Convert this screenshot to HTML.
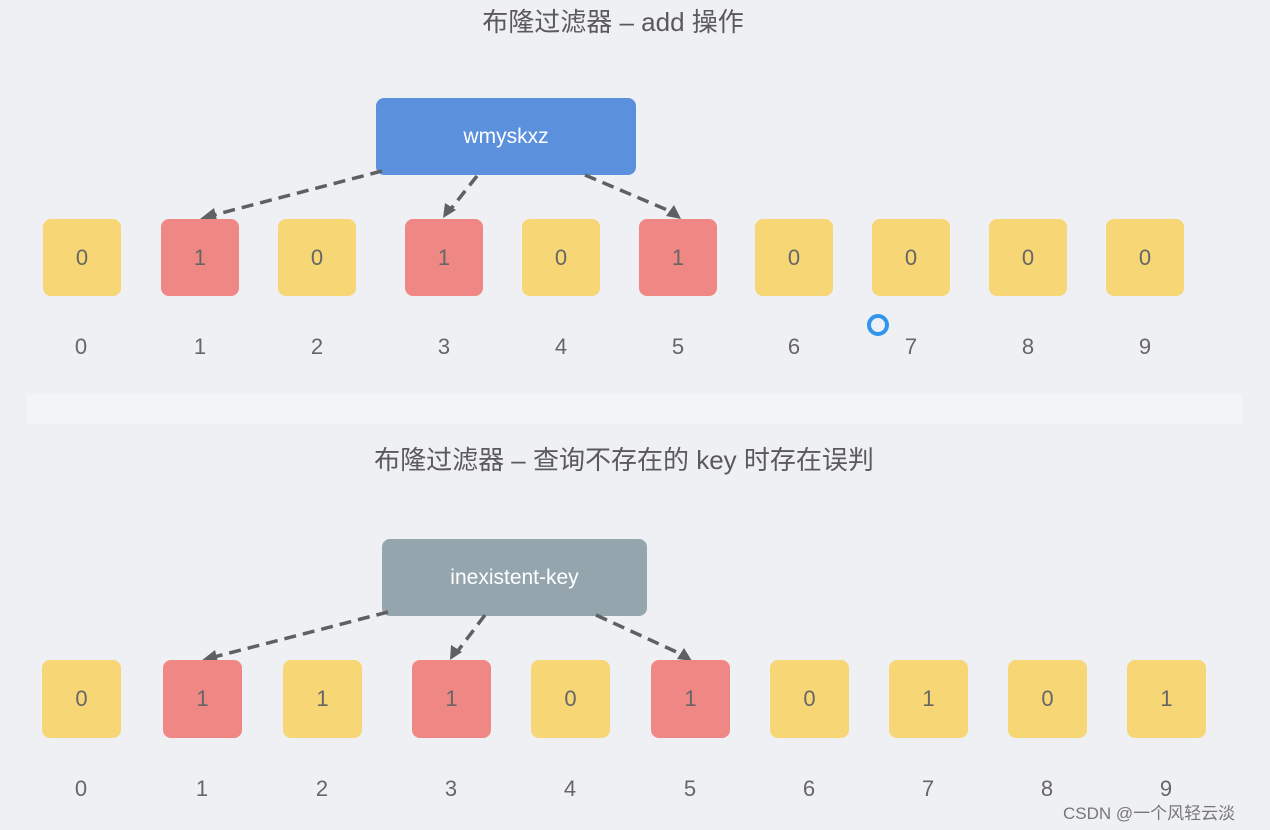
<!DOCTYPE html>
<html><head><meta charset="utf-8"><style>
html,body{margin:0;padding:0;}
body{width:1270px;height:830px;background:#eef0f4;position:relative;overflow:hidden;font-family:"Liberation Sans","Noto Sans CJK SC",sans-serif;}
.panel{position:absolute;left:27px;width:1216px;background:#eff0f4;}
.band{position:absolute;left:27px;width:1216px;top:394px;height:30px;background:#f3f4f7;}
.t{position:absolute;color:#5a5a5e;font-size:26px;white-space:nowrap;transform:translateX(-50%);}
.b{position:absolute;border-radius:8px;display:flex;align-items:center;justify-content:center;color:#666;font-size:22px;}
.y{background:#f7d676;}
.r{background:#ef8884;}
.n{position:absolute;color:#666;font-size:22px;transform:translateX(-50%);}
.node{position:absolute;border-radius:8px;color:#fff;font-size:21px;display:flex;align-items:center;justify-content:center;}
</style></head><body>
<div class="panel" style="top:0;height:394px"></div>
<div class="band"></div>
<div class="panel" style="top:424px;height:406px"></div>
<div class="t" style="left:613px;top:2px">布隆过滤器 – add 操作</div>
<div class="t" style="left:624px;top:440px">布隆过滤器 – 查询不存在的 key 时存在误判</div>
<div class="node" style="left:376px;top:98px;width:260px;height:77px;background:#5b90dc">wmyskxz</div>
<div class="node" style="left:382px;top:539px;width:265px;height:77px;background:#95a5ad">inexistent-key</div>
<svg width="1270" height="830" style="position:absolute;left:0;top:0">
<defs><marker id="a" markerWidth="8" markerHeight="8" refX="6" refY="4" orient="auto" markerUnits="userSpaceOnUse"><path d="M0,0 L8,4 L0,8 Z" fill="#5f6064" transform="scale(1.6) translate(-2,-2)"/></marker></defs>
<g stroke="#5f6064" stroke-width="3.5" stroke-dasharray="12,7" fill="none">
<line x1="382" y1="171" x2="210" y2="216"/>
<line x1="477" y1="176" x2="450" y2="210"/>
<line x1="585" y1="175" x2="672" y2="212"/>
<line x1="388" y1="612" x2="210" y2="658"/>
<line x1="485" y1="615" x2="457" y2="652"/>
<line x1="596" y1="615" x2="683" y2="655"/>
</g>
<g fill="#5f6064">
<polygon points="200,219 214,208 217,220"/>
<polygon points="443,218 445,203 456,210"/>
<polygon points="681,219 666,216 674,205"/>
<polygon points="201,661 215,650 218,662"/>
<polygon points="450,660 451,645 462,652"/>
<polygon points="692,661 677,659 684,648"/>
</g>
<circle cx="878" cy="325" r="9" fill="none" stroke="#2f95ef" stroke-width="4"/>
</svg>
<div class="b y" style="left:43px;top:219px;width:78px;height:77px">0</div>
<div class="b r" style="left:161px;top:219px;width:78px;height:77px">1</div>
<div class="b y" style="left:278px;top:219px;width:78px;height:77px">0</div>
<div class="b r" style="left:405px;top:219px;width:78px;height:77px">1</div>
<div class="b y" style="left:522px;top:219px;width:78px;height:77px">0</div>
<div class="b r" style="left:639px;top:219px;width:78px;height:77px">1</div>
<div class="b y" style="left:755px;top:219px;width:78px;height:77px">0</div>
<div class="b y" style="left:872px;top:219px;width:78px;height:77px">0</div>
<div class="b y" style="left:989px;top:219px;width:78px;height:77px">0</div>
<div class="b y" style="left:1106px;top:219px;width:78px;height:77px">0</div>
<div class="n" style="left:81px;top:334px">0</div>
<div class="n" style="left:200px;top:334px">1</div>
<div class="n" style="left:317px;top:334px">2</div>
<div class="n" style="left:444px;top:334px">3</div>
<div class="n" style="left:561px;top:334px">4</div>
<div class="n" style="left:678px;top:334px">5</div>
<div class="n" style="left:794px;top:334px">6</div>
<div class="n" style="left:911px;top:334px">7</div>
<div class="n" style="left:1028px;top:334px">8</div>
<div class="n" style="left:1145px;top:334px">9</div>
<div class="b y" style="left:42px;top:660px;width:79px;height:78px">0</div>
<div class="b r" style="left:163px;top:660px;width:79px;height:78px">1</div>
<div class="b y" style="left:283px;top:660px;width:79px;height:78px">1</div>
<div class="b r" style="left:412px;top:660px;width:79px;height:78px">1</div>
<div class="b y" style="left:531px;top:660px;width:79px;height:78px">0</div>
<div class="b r" style="left:651px;top:660px;width:79px;height:78px">1</div>
<div class="b y" style="left:770px;top:660px;width:79px;height:78px">0</div>
<div class="b y" style="left:889px;top:660px;width:79px;height:78px">1</div>
<div class="b y" style="left:1008px;top:660px;width:79px;height:78px">0</div>
<div class="b y" style="left:1127px;top:660px;width:79px;height:78px">1</div>
<div class="n" style="left:81px;top:776px">0</div>
<div class="n" style="left:202px;top:776px">1</div>
<div class="n" style="left:322px;top:776px">2</div>
<div class="n" style="left:451px;top:776px">3</div>
<div class="n" style="left:570px;top:776px">4</div>
<div class="n" style="left:690px;top:776px">5</div>
<div class="n" style="left:809px;top:776px">6</div>
<div class="n" style="left:928px;top:776px">7</div>
<div class="n" style="left:1047px;top:776px">8</div>
<div class="n" style="left:1166px;top:776px">9</div>
<div style="position:absolute;left:1063px;top:799px;font-size:17px;color:#777;white-space:nowrap">CSDN @一个风轻云淡</div>
</body></html>
